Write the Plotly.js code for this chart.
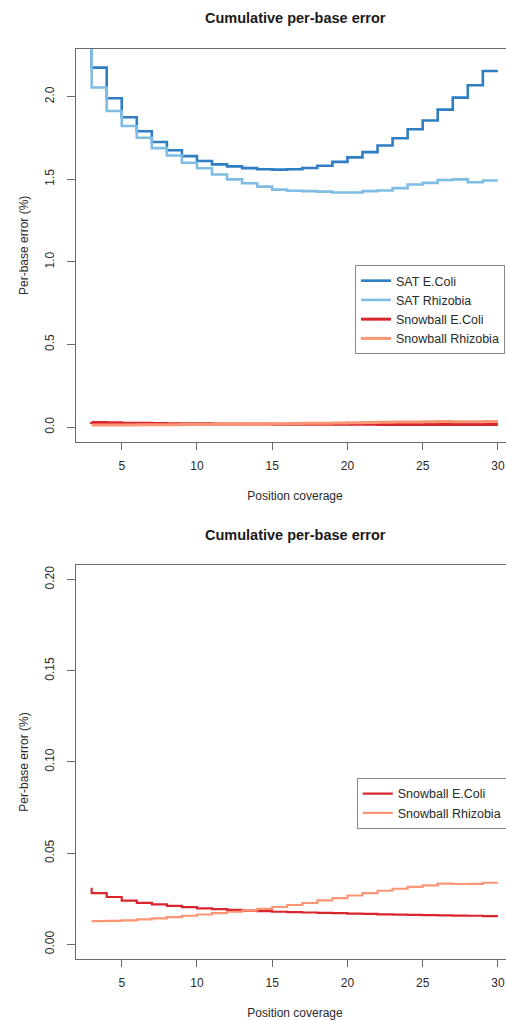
<!DOCTYPE html>
<html>
<head>
<meta charset="utf-8">
<script src="https://cdn.plot.ly/plotly-3.0.1.min.js"></script>
<style>
html,body{margin:0;padding:0;overflow:hidden;background:#fff}
#chart{width:520px;height:1020px}
</style>
</head>
<body>
<div id="chart"></div>
<script>
// Position coverage (x) for every series
const coverage = [3,4,5,6,7,8,9,10,11,12,13,14,15,16,17,18,19,20,21,22,23,24,25,26,27,28,29,30];

// Cumulative per-base error (%) per series (first value = start of step line)
const satEcoli = [2.40, 2.175, 1.99, 1.875, 1.79, 1.725, 1.675, 1.64, 1.61, 1.59, 1.578,
  1.567, 1.56, 1.558, 1.56, 1.568, 1.582, 1.605, 1.632, 1.664, 1.704,
  1.748, 1.802, 1.855, 1.921, 1.994, 2.069, 2.155];
const satRhizobia = [2.45, 2.055, 1.913, 1.822, 1.751, 1.688, 1.644, 1.600, 1.566, 1.529, 1.499,
  1.476, 1.455, 1.437, 1.430, 1.428, 1.425, 1.420, 1.420, 1.428, 1.432,
  1.446, 1.468, 1.478, 1.495, 1.499, 1.482, 1.492];
const snowballEcoli = [0.0310, 0.0281, 0.0260, 0.0240, 0.0228, 0.0219, 0.0211, 0.0204, 0.0198, 0.0193, 0.0189,
  0.0185, 0.0182, 0.0179, 0.0177, 0.0175, 0.0173, 0.0171, 0.0169, 0.0167, 0.0165,
  0.0163, 0.0162, 0.0160, 0.0159, 0.0158, 0.0157, 0.0155];
const snowballRhizobia = [0.0128, 0.0128, 0.0129, 0.0132, 0.0137, 0.0143, 0.0150, 0.0157, 0.0164, 0.0172, 0.0179,
  0.0186, 0.0195, 0.0205, 0.0216, 0.0227, 0.0241, 0.0254, 0.0268, 0.0281, 0.0294,
  0.0305, 0.0315, 0.0324, 0.0333, 0.0331, 0.0332, 0.0338];

const seriesNames = ["SAT E.Coli", "SAT Rhizobia", "Snowball E.Coli", "Snowball Rhizobia"];
const seriesColors = ["#2f7dc2", "#7fbde4", "#d9262e", "#fb9574"];

// Tick values / labels
const xTicks = [5, 10, 15, 20, 25, 30];
const yTicksTop = [0, 0.5, 1, 1.5, 2];
const yTicksBottom = [0, 0.05, 0.10, 0.15, 0.20];

const chartTitle = "Cumulative per-base error";
const xTitle = "Position coverage";
const yTitle = "Per-base error (%)";

const FONT = "Liberation Sans, Arial, Helvetica, sans-serif";
const topData = [satEcoli, satRhizobia, snowballEcoli, snowballRhizobia];

const traces = [];
topData.forEach((ys, i) => {
  traces.push({
    x: coverage, y: ys, xaxis: "x", yaxis: "y",
    type: "scatter", mode: "lines", name: seriesNames[i],
    line: {shape: "vh", color: seriesColors[i], width: i < 2 ? 2.6 : 3},
    legend: "legend", hoverinfo: "skip"
  });
});
[snowballEcoli, snowballRhizobia].forEach((ys, k) => {
  const i = k + 2;
  traces.push({
    x: coverage, y: ys, xaxis: "x2", yaxis: "y2",
    type: "scatter", mode: "lines", name: seriesNames[i],
    line: {shape: "vh", color: seriesColors[i], width: 2.2},
    legend: "legend2", hoverinfo: "skip"
  });
});

const axisCommon = {
  showline: true, mirror: true, linecolor: "#6b6b6b", linewidth: 1,
  ticks: "outside", ticklen: 7, tickcolor: "#6b6b6b", tickwidth: 1,
  showgrid: false, zeroline: false,
  tickfont: {family: FONT, size: 12, color: "#2a2a2a"}
};

const xAxis = (anchor) => Object.assign({}, axisCommon, {
  anchor: anchor, domain: [0, 1], range: [1.96, 31.07],
  tickmode: "array", tickvals: xTicks, ticktext: xTicks.map(String),
  ticklabelstandoff: 6,
  title: {text: xTitle, font: {family: FONT, size: 12, color: "#2a2a2a"}, standoff: 19}
});
const yAxis = (anchor, dom, range, ticks, fmt) => Object.assign({}, axisCommon, {
  anchor: anchor, domain: dom, range: range,
  tickmode: "array", tickvals: ticks, ticktext: ticks.map(v => v.toFixed(fmt)),
  tickangle: -90, ticklabelstandoff: 8, ticklen: 8,
  title: {text: yTitle, font: {family: FONT, size: 12, color: "#2a2a2a"}, standoff: 11}
});

const legendCommon = {
  xanchor: "left", yanchor: "top", bgcolor: "#ffffff",
  bordercolor: "#8a8a8a", borderwidth: 1,
  font: {family: FONT, size: 12.5, color: "#2a2a2a"}
};

const layout = {
  width: 520, height: 1020,
  margin: {l: 76, r: 6, t: 49, b: 61},
  paper_bgcolor: "#ffffff", plot_bgcolor: "#ffffff",
  showlegend: true,
  font: {family: FONT},
  xaxis: xAxis("y"),
  yaxis: yAxis("x", [0.5685, 1], [-0.088, 2.288], yTicksTop, 1),
  xaxis2: xAxis("y2"),
  yaxis2: yAxis("x2", [0, 0.433], [-0.008, 0.208], yTicksBottom, 2),
  legend: Object.assign({}, legendCommon, {x: 0.637, y: 0.7626}),
  legend2: Object.assign({}, legendCommon, {x: 0.641, y: 0.199}),
  annotations: [
    {text: "<b>" + chartTitle + "</b>", xref: "paper", yref: "paper", x: 0.5, y: 1.034,
     xanchor: "center", yanchor: "middle", showarrow: false,
     font: {family: FONT, size: 14.5, color: "#1a1a1a"}},
    {text: "<b>" + chartTitle + "</b>", xref: "paper", yref: "paper", x: 0.5, y: 0.466,
     xanchor: "center", yanchor: "middle", showarrow: false,
     font: {family: FONT, size: 14.5, color: "#1a1a1a"}}
  ]
};

Plotly.newPlot("chart", traces, layout, {staticPlot: true, displayModeBar: false});
</script>
</body>
</html>
